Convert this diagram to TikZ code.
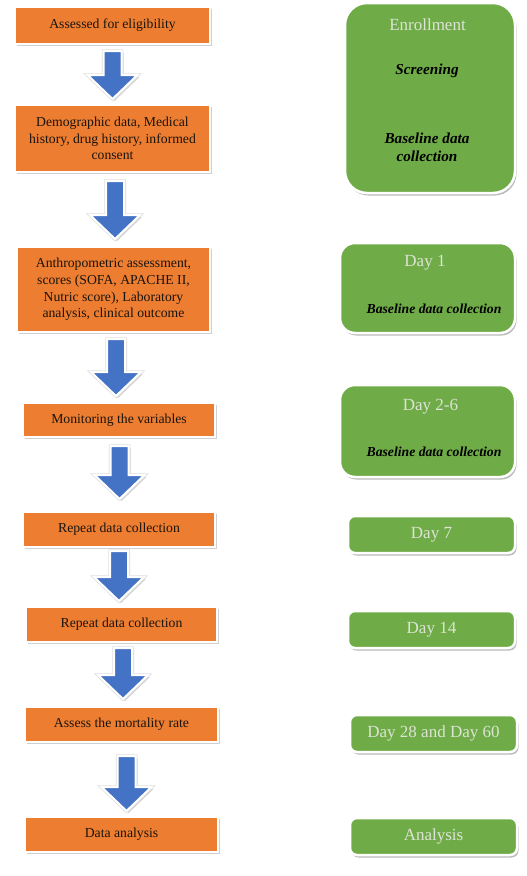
\documentclass[tikz,border=0pt]{standalone}
\usepackage{fontspec}
\setmainfont{Liberation Serif}
\usetikzlibrary{calc,shadows}
\definecolor{orangeF}{HTML}{ED7D31}
\definecolor{greenF}{HTML}{6FAC47}
\definecolor{arrowB}{HTML}{4472C4}
\definecolor{lightT}{HTML}{DDE3D5}
\definecolor{darkT}{HTML}{1A140E}
\newcommand\flowarr[5]{%
  \path[fill=gray!35] let \p1=($(#1.south)+(#3,#4)$), \p2=($(#2.north)+(#3,-#5)$) in
    (\x1-7pt,\y1-2pt) -- (\x1+11pt,\y1-2pt) -- (\x1+11pt,\y2+22pt) -- (\x1+27pt,\y2+22pt)
    -- (\x1+2pt,\y2-2pt) -- (\x1-23pt,\y2+22pt) -- (\x1-7pt,\y2+22pt) -- cycle;
  \path[draw=gray!25, line width=3.5pt] let \p1=($(#1.south)+(#3,#4)$), \p2=($(#2.north)+(#3,-#5)$) in
    (\x1-9pt,\y1) -- (\x1+9pt,\y1) -- (\x1+9pt,\y2+24pt) -- (\x1+25pt,\y2+24pt)
    -- (\x1,\y2) -- (\x1-25pt,\y2+24pt) -- (\x1-9pt,\y2+24pt) -- cycle;
  \path[fill=arrowB, draw=white, line width=2pt] let \p1=($(#1.south)+(#3,#4)$), \p2=($(#2.north)+(#3,-#5)$) in
    (\x1-9pt,\y1) -- (\x1+9pt,\y1) -- (\x1+9pt,\y2+24pt) -- (\x1+25pt,\y2+24pt)
    -- (\x1,\y2) -- (\x1-25pt,\y2+24pt) -- (\x1-9pt,\y2+24pt) -- cycle;
}
\begin{document}
\begin{tikzpicture}[x=1pt,y=-1pt,
  obox/.style={rectangle, fill=orangeF, draw=white, line width=2pt,
    drop shadow={shadow xshift=2pt, shadow yshift=-2pt, fill=gray!60, opacity=0.6},
    font=\fontsize{13.7}{16.8}\selectfont, text=darkT, align=center, inner sep=0pt},
  gbox/.style={rectangle, fill=greenF, draw=white, line width=2.5pt,
    drop shadow={shadow xshift=1.5pt, shadow yshift=-2.5pt, fill=black!45, opacity=0.6},
    text=lightT, font=\fontsize{17}{20}\selectfont, inner sep=0pt},
  ltxt/.style={text=lightT, font=\fontsize{17}{20}\selectfont, inner sep=0pt},
  bitxt/.style={text=black, font=\fontsize{13.7}{17}\selectfont\bfseries\itshape, inner sep=0pt, align=center},
  bitxtL/.style={text=black, font=\fontsize{15.2}{18}\selectfont\bfseries\itshape, inner sep=0pt, align=center}
]
\useasboundingbox (0,0) rectangle (527,876);
\fill[white] (0,0) rectangle (527,876);

% orange boxes
\node[obox, minimum width=195pt, minimum height=37pt] (o1) at (112.5,25.5) {Assessed for eligibility};
\node[obox, minimum width=195pt, minimum height=67pt] (o2) at (112.5,138.5) {Demographic data, Medical\\history, drug history, informed\\consent};
\node[obox, minimum width=193pt, minimum height=85pt] (o3) at (113.5,289.5) {Anthropometric assessment,\\scores (SOFA, APACHE II,\\Nutric score), Laboratory\\analysis, clinical outcome};
\node[obox, minimum width=192pt, minimum height=34pt] (o4) at (119,420) {Monitoring the variables};
\node[obox, minimum width=192pt, minimum height=35pt] (o5) at (119,529.5) {Repeat data collection};
\node[obox, minimum width=191pt, minimum height=35pt] (o6) at (121.5,624.5) {Repeat data collection};
\node[obox, minimum width=193pt, minimum height=35pt] (o7) at (121.5,724.5) {Assess the mortality rate};
\node[obox, minimum width=193pt, minimum height=35pt] (o8) at (121.5,834.5) {Data analysis};

% arrows
\flowarr{o1}{o2}{0}{6}{5}
\flowarr{o2}{o3}{2.5}{8}{7}
\flowarr{o3}{o4}{2.5}{6}{6}
\flowarr{o4}{o5}{0.5}{8}{12}
\flowarr{o5}{o6}{0}{3}{5}
\flowarr{o6}{o7}{1.5}{5}{7}
\flowarr{o7}{o8}{5}{13}{5}

% green boxes
\node[gbox, rounded corners=22pt, minimum width=170pt, minimum height=190pt] (g1) at (430,98) {};
\node[ltxt] (g1t) at (427.5,25) {Enrollment};
\node[bitxtL] (g1s) at (427,71) {Screening};
\node[bitxtL] (g1b) at (427,147) {Baseline data\\collection};

\node[gbox, rounded corners=15pt, minimum width=175pt, minimum height=90pt] (g2) at (427.5,288) {};
\node[ltxt] (g2t) at (425,263) {Day 1};
\node[bitxt] (g2b) at (434,309) {Baseline data collection};

\node[gbox, rounded corners=15pt, minimum width=175pt, minimum height=92pt] (g3) at (427.5,431) {};
\node[ltxt] (g3t) at (430.5,407) {Day 2-6};
\node[bitxt] (g3b) at (434,452) {Baseline data collection};

\node[gbox, rounded corners=7pt, minimum width=167pt, minimum height=37pt] (g4) at (431.5,534.5) {Day 7};
\node[gbox, rounded corners=7pt, minimum width=167pt, minimum height=37pt] (g5) at (431.5,629.5) {Day 14};
\node[gbox, rounded corners=7pt, minimum width=167pt, minimum height=37pt] (g6) at (433.5,733.5) {Day 28 and Day 60};
\node[gbox, rounded corners=7pt, minimum width=167pt, minimum height=37pt] (g7) at (433.5,836.5) {Analysis};
\end{tikzpicture}
\end{document}
